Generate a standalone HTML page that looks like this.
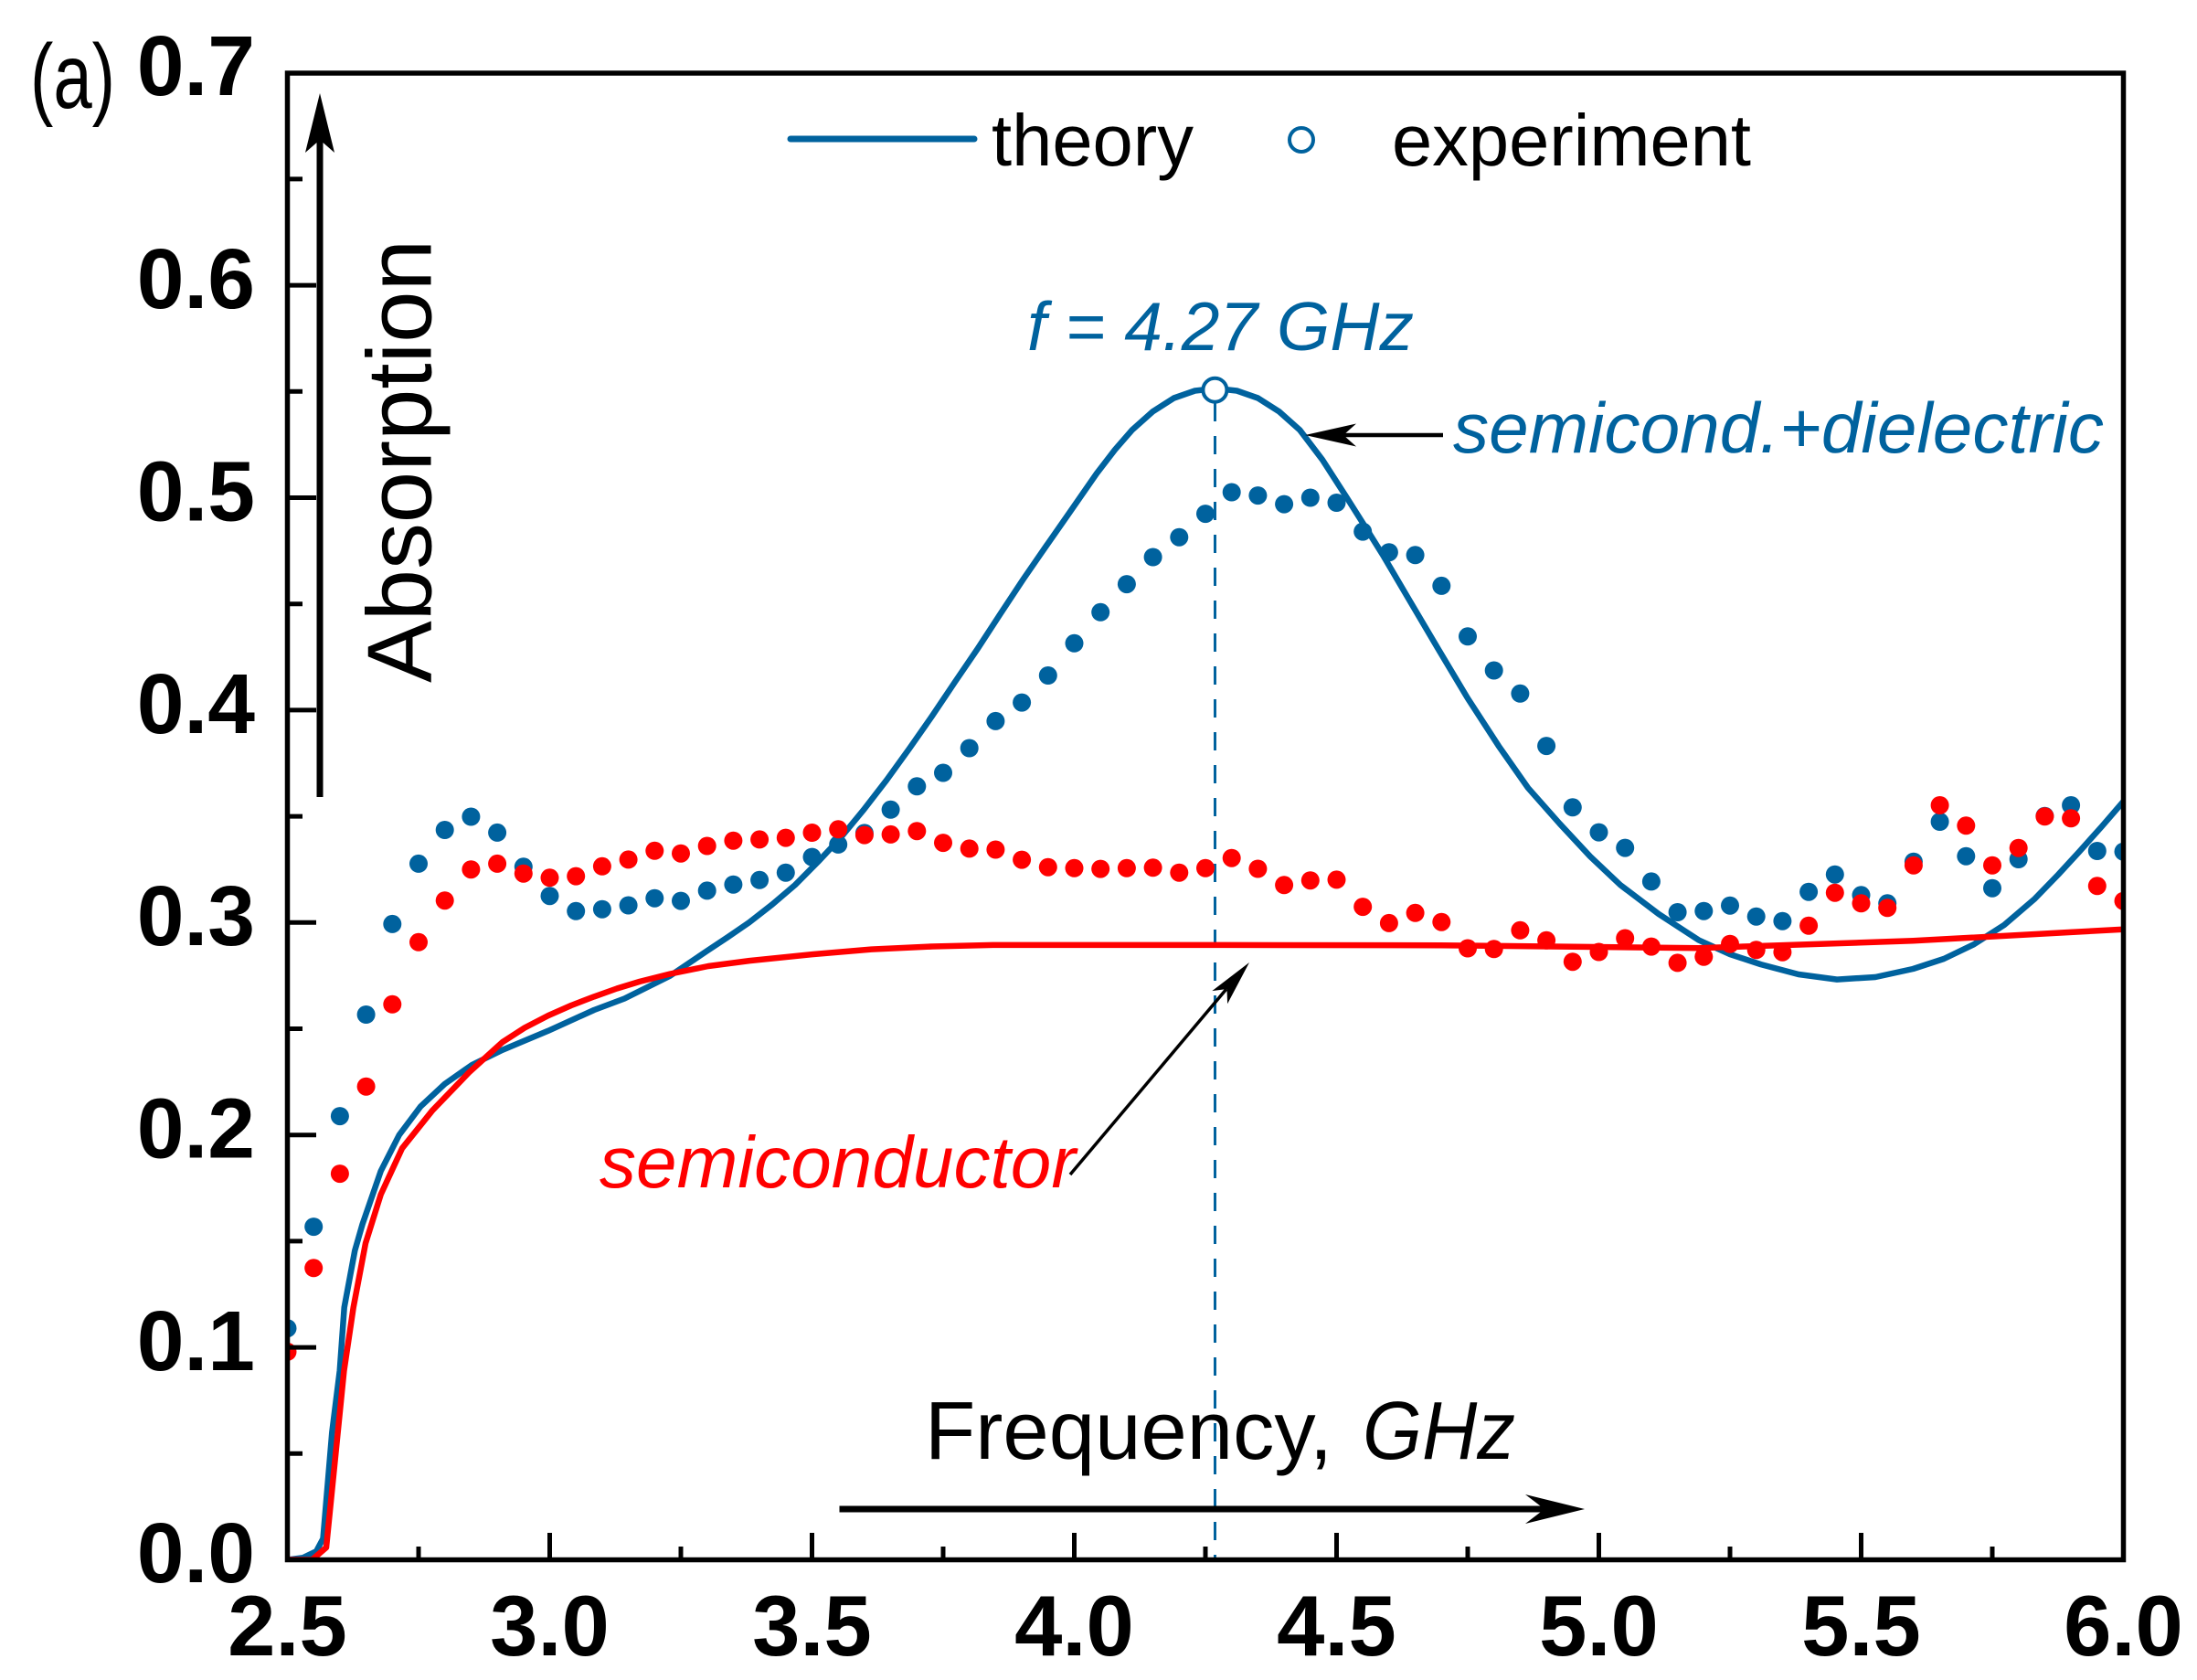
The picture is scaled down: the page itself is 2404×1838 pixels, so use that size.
<!DOCTYPE html>
<html><head><meta charset="utf-8"><style>
html,body{margin:0;padding:0;background:#fff;}
svg{display:block;}
text{font-family:"Liberation Sans",Arial,sans-serif;}
</style></head><body>
<svg width="2404" height="1838" viewBox="0 0 2404 1838" xmlns="http://www.w3.org/2000/svg">
<defs>
<clipPath id="pc"><rect x="314.5" y="80" width="2009" height="1626.5"/></clipPath>
</defs>
<rect width="2404" height="1838" fill="#fff"/>

<!-- dashed line at peak -->
<line x1="1329.5" y1="441" x2="1329.5" y2="1706" stroke="#00629E" stroke-width="3" stroke-dasharray="20 16"/>

<g clip-path="url(#pc)">
<!-- theory blue -->
<polyline fill="none" stroke="#00629E" stroke-width="6.5" stroke-linejoin="round" points="314.5,1706.5 331.7,1704.2 346.1,1697.2 353.5,1683.3 363.3,1567.1 371.7,1499.9 376.7,1430.4 388.3,1368.1 396.6,1339.3 416.7,1281.2 436.8,1241.7 460.0,1210.8 486.7,1185.9 516.5,1165.0 549.8,1148.7 599.8,1127.8 650.0,1105.0 683.3,1092.5 733.3,1067.6 773.1,1040.7 796,1025.5 819.6,1009.3 845,989.5 870.0,968.2 895,943 920.0,916.3 945,886 970.0,853.6 995,819 1019.9,783.4 1045,746 1069.9,709.5 1095,671 1119.8,633.5 1145,597 1169.8,561.5 1200,518 1220,492 1238.6,470.6 1261.6,450.1 1284.5,435.5 1307.5,427.5 1330.5,425 1353.4,427.5 1376.4,435.5 1399.4,450.1 1422.4,470.6 1447,503 1473.4,544 1493,575 1513.0,607 1543,658 1573.3,709.3 1606,764 1639.9,816.2 1672,862 1706.5,901.0 1740,937 1773.0,968.2 1815,1000 1858.6,1028.4 1893,1044 1926.8,1055.1 1968,1066 2010.1,1071.6 2052,1069 2093.3,1060.0 2127,1049 2159.9,1033.2 2193,1012 2226.5,983.3 2252,957 2275,932 2300,904 2323.5,876.8"/>
<!-- theory red -->
<polyline fill="none" stroke="#FF0000" stroke-width="6.5" stroke-linejoin="round" points="314.5,1706.5 341.5,1706.5 357.0,1693.0 376.4,1499.9 386.7,1430.4 400.0,1360.2 416.7,1306.8 440.0,1256.3 473.3,1214.7 513.1,1173.4 549.8,1140.1 574,1124.5 599.8,1111.1 625,1100 650.0,1090.4 675,1081.5 700.0,1073.9 733.3,1065.5 775,1057 820.0,1051.1 890,1044 953.4,1038.6 1020,1035.5 1086.5,1033.9 1339.6,1033.9 1577.3,1034.2 1858.6,1037.2 2093.3,1029.3 2323.5,1016.7"/>

<!-- experiment blue dots -->
<g fill="#00629E">
<circle cx="314.5" cy="1453.2" r="10"/><circle cx="343.2" cy="1342.1" r="10"/><circle cx="371.9" cy="1221.1" r="10"/><circle cx="400.6" cy="1110" r="10"/><circle cx="429.3" cy="1010.9" r="10"/><circle cx="458.0" cy="944.9" r="10"/><circle cx="486.7" cy="908" r="10"/><circle cx="515.4" cy="893.5" r="10"/><circle cx="544.1" cy="910.9" r="10"/><circle cx="572.8" cy="948.3" r="10"/>
<circle cx="601.5" cy="980.2" r="10"/><circle cx="630.2" cy="996.8" r="10"/><circle cx="658.9" cy="994.7" r="10"/><circle cx="687.6" cy="990.5" r="10"/><circle cx="716.3" cy="982.7" r="10"/><circle cx="745.0" cy="985.6" r="10"/><circle cx="773.7" cy="974.4" r="10"/><circle cx="802.4" cy="967.7" r="10"/><circle cx="831.1" cy="962.8" r="10"/><circle cx="859.8" cy="954.7" r="10"/>
<circle cx="888.5" cy="937.6" r="10"/><circle cx="917.2" cy="923.9" r="10"/><circle cx="945.9" cy="911.4" r="10"/><circle cx="974.6" cy="885.8" r="10"/><circle cx="1003.3" cy="860.3" r="10"/><circle cx="1032.0" cy="845.5" r="10"/><circle cx="1060.7" cy="818.5" r="10"/><circle cx="1089.4" cy="788.9" r="10"/><circle cx="1118.1" cy="768.6" r="10"/><circle cx="1146.8" cy="739" r="10"/>
<circle cx="1175.5" cy="703.8" r="10"/><circle cx="1204.2" cy="669.8" r="10"/><circle cx="1232.9" cy="639.1" r="10"/><circle cx="1261.6" cy="609.5" r="10"/><circle cx="1290.3" cy="587.7" r="10"/><circle cx="1319.0" cy="562.1" r="10"/><circle cx="1347.7" cy="538.5" r="10"/><circle cx="1376.4" cy="542.1" r="10"/><circle cx="1405.1" cy="551.6" r="10"/><circle cx="1433.8" cy="544.5" r="10"/>
<circle cx="1462.5" cy="550" r="10"/><circle cx="1491.2" cy="581.6" r="10"/><circle cx="1519.9" cy="604.2" r="10"/><circle cx="1548.6" cy="607.3" r="10"/><circle cx="1577.3" cy="640.9" r="10"/><circle cx="1606.0" cy="696.3" r="10"/><circle cx="1634.7" cy="733.5" r="10"/><circle cx="1663.4" cy="758.8" r="10"/><circle cx="1692.1" cy="816.1" r="10"/><circle cx="1720.8" cy="883.3" r="10"/>
<circle cx="1749.5" cy="910.6" r="10"/><circle cx="1778.2" cy="927.6" r="10"/><circle cx="1806.9" cy="964.4" r="10"/><circle cx="1835.6" cy="998" r="10"/><circle cx="1864.3" cy="996.7" r="10"/><circle cx="1893.0" cy="990.7" r="10"/><circle cx="1921.7" cy="1002.7" r="10"/><circle cx="1950.4" cy="1007.7" r="10"/><circle cx="1979.1" cy="975.7" r="10"/><circle cx="2007.8" cy="956.7" r="10"/>
<circle cx="2036.5" cy="979.3" r="10"/><circle cx="2065.2" cy="988.3" r="10"/><circle cx="2093.9" cy="942.7" r="10"/><circle cx="2122.6" cy="899" r="10"/><circle cx="2151.3" cy="936.7" r="10"/><circle cx="2180.0" cy="971.7" r="10"/><circle cx="2208.7" cy="940" r="10"/><circle cx="2237.4" cy="892.7" r="10"/><circle cx="2266.1" cy="881" r="10"/><circle cx="2294.8" cy="931" r="10"/>
<circle cx="2323.5" cy="931.7" r="10"/>
</g>
<!-- experiment red dots -->
<g fill="#FF0000">
<circle cx="314.5" cy="1478.9" r="10"/><circle cx="343.2" cy="1387.3" r="10"/><circle cx="371.9" cy="1284.1" r="10"/><circle cx="400.6" cy="1188.7" r="10"/><circle cx="429.3" cy="1098.8" r="10"/><circle cx="458.0" cy="1030.8" r="10"/><circle cx="486.7" cy="985.2" r="10"/><circle cx="515.4" cy="951.2" r="10"/><circle cx="544.1" cy="944.9" r="10"/><circle cx="572.8" cy="955.7" r="10"/>
<circle cx="601.5" cy="960.3" r="10"/><circle cx="630.2" cy="958.6" r="10"/><circle cx="658.9" cy="947.8" r="10"/><circle cx="687.6" cy="940.4" r="10"/><circle cx="716.3" cy="930.8" r="10"/><circle cx="745.0" cy="933.7" r="10"/><circle cx="773.7" cy="925.5" r="10"/><circle cx="802.4" cy="919.7" r="10"/><circle cx="831.1" cy="918.4" r="10"/><circle cx="859.8" cy="916.6" r="10"/>
<circle cx="888.5" cy="911" r="10"/><circle cx="917.2" cy="907.3" r="10"/><circle cx="945.9" cy="913.6" r="10"/><circle cx="974.6" cy="912.9" r="10"/><circle cx="1003.3" cy="909.2" r="10"/><circle cx="1032.0" cy="922.1" r="10"/><circle cx="1060.7" cy="928.4" r="10"/><circle cx="1089.4" cy="929.5" r="10"/><circle cx="1118.1" cy="940.6" r="10"/><circle cx="1146.8" cy="948.7" r="10"/>
<circle cx="1175.5" cy="949.8" r="10"/><circle cx="1204.2" cy="950.6" r="10"/><circle cx="1232.9" cy="949.8" r="10"/><circle cx="1261.6" cy="949.3" r="10"/><circle cx="1290.3" cy="954.7" r="10"/><circle cx="1319.0" cy="949.8" r="10"/><circle cx="1347.7" cy="938.7" r="10"/><circle cx="1376.4" cy="950.5" r="10"/><circle cx="1405.1" cy="968.3" r="10"/><circle cx="1433.8" cy="963.2" r="10"/>
<circle cx="1462.5" cy="962.4" r="10"/><circle cx="1491.2" cy="992.1" r="10"/><circle cx="1519.9" cy="1009.9" r="10"/><circle cx="1548.6" cy="998.8" r="10"/><circle cx="1577.3" cy="1008.7" r="10"/><circle cx="1606.0" cy="1037.5" r="10"/><circle cx="1634.7" cy="1038.3" r="10"/><circle cx="1663.4" cy="1017.8" r="10"/><circle cx="1692.1" cy="1028.8" r="10"/><circle cx="1720.8" cy="1052.2" r="10"/>
<circle cx="1749.5" cy="1041.5" r="10"/><circle cx="1778.2" cy="1026.5" r="10"/><circle cx="1806.9" cy="1035.6" r="10"/><circle cx="1835.6" cy="1053.4" r="10"/><circle cx="1864.3" cy="1046.7" r="10"/><circle cx="1893.0" cy="1032.7" r="10"/><circle cx="1921.7" cy="1039.3" r="10"/><circle cx="1950.4" cy="1041.7" r="10"/><circle cx="1979.1" cy="1012.7" r="10"/><circle cx="2007.8" cy="976.7" r="10"/>
<circle cx="2036.5" cy="988.3" r="10"/><circle cx="2065.2" cy="993.3" r="10"/><circle cx="2093.9" cy="946.7" r="10"/><circle cx="2122.6" cy="881" r="10"/><circle cx="2151.3" cy="903.3" r="10"/><circle cx="2180.0" cy="946.7" r="10"/><circle cx="2208.7" cy="927.7" r="10"/><circle cx="2237.4" cy="893.3" r="10"/><circle cx="2266.1" cy="895.3" r="10"/><circle cx="2294.8" cy="969.3" r="10"/>
<circle cx="2323.5" cy="985.7" r="10"/>
</g>
</g>

<!-- peak marker -->
<circle cx="1329.4" cy="426.7" r="13" fill="#fff" stroke="#00629E" stroke-width="4"/>

<!-- frame -->
<rect x="314.5" y="80" width="2009" height="1626.5" fill="none" stroke="#000" stroke-width="5.5"/>

<!-- y ticks -->
<g stroke="#000" stroke-width="5">
<line x1="314.5" y1="1474.1" x2="346" y2="1474.1"/>
<line x1="314.5" y1="1241.7" x2="346" y2="1241.7"/>
<line x1="314.5" y1="1009.3" x2="346" y2="1009.3"/>
<line x1="314.5" y1="776.9" x2="346" y2="776.9"/>
<line x1="314.5" y1="544.5" x2="346" y2="544.5"/>
<line x1="314.5" y1="312.1" x2="346" y2="312.1"/>
<line x1="314.5" y1="1590.3" x2="331" y2="1590.3"/>
<line x1="314.5" y1="1357.9" x2="331" y2="1357.9"/>
<line x1="314.5" y1="1125.5" x2="331" y2="1125.5"/>
<line x1="314.5" y1="893.1" x2="331" y2="893.1"/>
<line x1="314.5" y1="660.7" x2="331" y2="660.7"/>
<line x1="314.5" y1="428.3" x2="331" y2="428.3"/>
<line x1="314.5" y1="195.9" x2="331" y2="195.9"/>
<!-- x ticks -->
<line x1="601.5" y1="1706.5" x2="601.5" y2="1677"/>
<line x1="888.5" y1="1706.5" x2="888.5" y2="1677"/>
<line x1="1175.5" y1="1706.5" x2="1175.5" y2="1677"/>
<line x1="1462.5" y1="1706.5" x2="1462.5" y2="1677"/>
<line x1="1749.5" y1="1706.5" x2="1749.5" y2="1677"/>
<line x1="2036.5" y1="1706.5" x2="2036.5" y2="1677"/>
<line x1="458" y1="1706.5" x2="458" y2="1692"/>
<line x1="745" y1="1706.5" x2="745" y2="1692"/>
<line x1="1032" y1="1706.5" x2="1032" y2="1692"/>
<line x1="1319" y1="1706.5" x2="1319" y2="1692"/>
<line x1="1606" y1="1706.5" x2="1606" y2="1692"/>
<line x1="1893" y1="1706.5" x2="1893" y2="1692"/>
<line x1="2180" y1="1706.5" x2="2180" y2="1692"/>
</g>

<!-- y tick labels -->
<g font-size="93" font-weight="bold" text-anchor="end" fill="#000">
<text x="279" y="104">0.7</text>
<text x="279" y="337">0.6</text>
<text x="279" y="569.5">0.5</text>
<text x="279" y="802">0.4</text>
<text x="279" y="1034">0.3</text>
<text x="279" y="1266.5">0.2</text>
<text x="279" y="1499">0.1</text>
<text x="279" y="1731">0.0</text>
</g>
<!-- x tick labels -->
<g font-size="94" font-weight="bold" text-anchor="middle" fill="#000">
<text x="314.5" y="1811">2.5</text>
<text x="601.5" y="1811">3.0</text>
<text x="888.5" y="1811">3.5</text>
<text x="1175.5" y="1811">4.0</text>
<text x="1462.5" y="1811">4.5</text>
<text x="1749.5" y="1811">5.0</text>
<text x="2036.5" y="1811">5.5</text>
<text x="2323.5" y="1811">6.0</text>
</g>

<!-- panel label -->
<text x="33" y="118" font-size="100" textLength="93" lengthAdjust="spacingAndGlyphs" fill="#000">(a)</text>

<!-- y axis arrow + label -->
<line x1="350" y1="872" x2="350" y2="150" stroke="#000" stroke-width="7"/>
<polygon points="350,102 366,167 350,153 334,167" fill="#000"/>
<text transform="translate(471.5,747) rotate(-90)" font-size="100" textLength="485" lengthAdjust="spacingAndGlyphs" fill="#000">Absorption</text>

<!-- legend -->
<line x1="865" y1="152" x2="1066" y2="152" stroke="#00629E" stroke-width="7" stroke-linecap="round"/>
<text x="1085" y="181" font-size="80" textLength="221" lengthAdjust="spacingAndGlyphs" fill="#000">theory</text>
<circle cx="1424" cy="153" r="13" fill="#fff" stroke="#00629E" stroke-width="4"/>
<text x="1523" y="181" font-size="80" textLength="393" lengthAdjust="spacingAndGlyphs" fill="#000">experiment</text>

<!-- annotations -->
<text x="1124" y="383" font-size="75" font-style="italic" textLength="423" lengthAdjust="spacingAndGlyphs" fill="#00629E">f = 4.27 GHz</text>
<text x="1590" y="495" font-size="78" font-style="italic" textLength="712" lengthAdjust="spacingAndGlyphs" fill="#00629E">semicond.+dielectric</text>
<line x1="1579" y1="476" x2="1470" y2="476" stroke="#000" stroke-width="4.5"/>
<polygon points="1428,476 1484,463.5 1470,476 1484,488.5" fill="#000"/>

<text x="656" y="1299" font-size="80" font-style="italic" textLength="521" lengthAdjust="spacingAndGlyphs" fill="#FF0000">semiconductor</text>
<line x1="1171" y1="1285" x2="1342" y2="1082" stroke="#000" stroke-width="3.5"/>
<polygon points="1367,1053 1343.1,1098.3 1342.5,1082 1326.3,1084.1" fill="#000"/>

<!-- x axis label + arrow -->
<text x="1012" y="1596" font-size="90" textLength="446" lengthAdjust="spacingAndGlyphs" fill="#000">Frequency,</text>
<text x="1491" y="1596" font-size="90" font-style="italic" textLength="167" lengthAdjust="spacingAndGlyphs" fill="#000">GHz</text>
<line x1="918.5" y1="1651" x2="1692" y2="1651" stroke="#000" stroke-width="7"/>
<polygon points="1734,1651 1669,1635 1690,1651 1669,1667" fill="#000"/>
</svg>
</body></html>
